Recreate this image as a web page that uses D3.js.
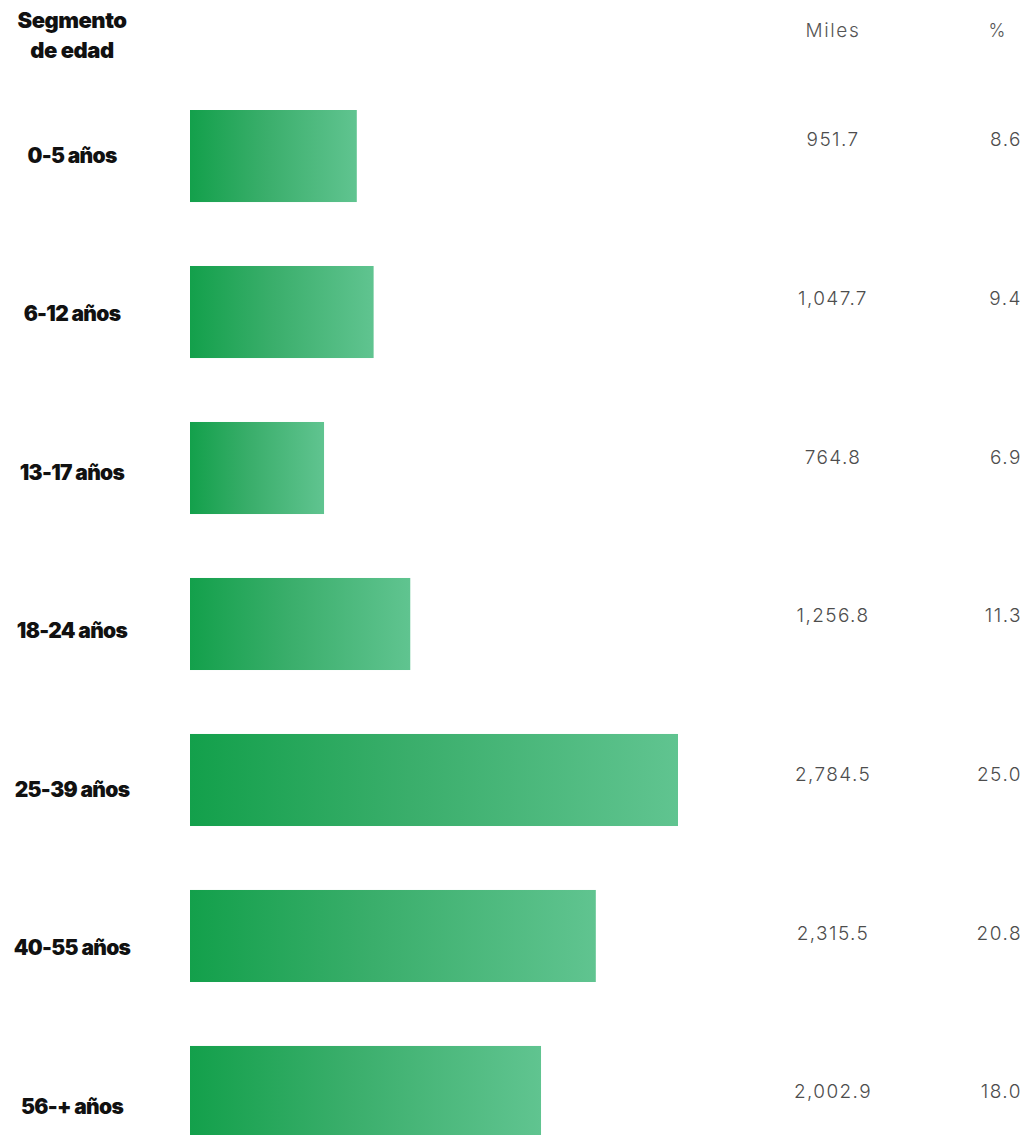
<!DOCTYPE html>
<html lang="es">
<head>
<meta charset="utf-8">
<script src="https://cdn.jsdelivr.net/npm/d3@7/dist/d3.min.js"></script>
<style>
  html, body { margin: 0; padding: 0; background: #ffffff; }
  svg { display: block; }
</style>
</head>
<body>
<script>
// Población por segmento de edad (miles y porcentaje)
const categories = ["0-5 años", "6-12 años", "13-17 años", "18-24 años", "25-39 años", "40-55 años", "56-+ años"];
const miles = [951.7, 1047.7, 764.8, 1256.8, 2784.5, 2315.5, 2002.9];
const pct = [8.6, 9.4, 6.9, 11.3, 25.0, 20.8, 18.0];
const headers = { segmento: ["Segmento", "de edad"], miles: "Miles", pct: "%" };

const W = 1032, H = 1135;
const svg = d3.select("body").append("svg").attr("width", W).attr("height", H);

const defs = svg.append("defs");
const grad = defs.append("linearGradient").attr("id", "barGrad")
  .attr("x1", "0%").attr("x2", "100%").attr("y1", "0%").attr("y2", "0%");
grad.append("stop").attr("offset", "0%").attr("stop-color", "#13a04b");
grad.append("stop").attr("offset", "45%").attr("stop-color", "#3aae6b");
grad.append("stop").attr("offset", "100%").attr("stop-color", "#60c490");

const x = d3.scaleLinear().domain([0, d3.max(miles)]).range([190, 678]);
const yBar = d3.scaleBand().domain(categories).range([110, 1138]).paddingInner(0.41).paddingOuter(0).align(0);
const yLabel = d3.scalePoint().domain(categories).range([157, 1108]);
const yValue = d3.scalePoint().domain(categories).range([141, 1093]);

const fmt = d3.format(",.1f");
const fmtPct = d3.format(".1f");

const boldFont = "Inter, 'Noto Sans', sans-serif";
const lightFont = "Inter, sans-serif";

// Encabezados
const head = svg.append("g");
head.selectAll("text.seg").data(headers.segmento).join("text")
  .attr("class", "seg")
  .attr("x", 72).attr("y", (d, i) => 22 + i * 30)
  .attr("text-anchor", "middle").attr("dominant-baseline", "middle")
  .attr("font-family", boldFont).attr("font-weight", 900)
  .attr("font-size", 22).attr("letter-spacing", -0.5).attr("fill", "#111")
  .text(d => d);
head.append("text").attr("x", 833).attr("y", 32)
  .attr("text-anchor", "middle").attr("dominant-baseline", "middle")
  .attr("font-family", lightFont).attr("font-weight", 300)
  .attr("font-size", 19).attr("letter-spacing", 1.6).attr("fill", "#555")
  .text(headers.miles);
head.append("text").attr("x", 997).attr("y", 32)
  .attr("text-anchor", "middle").attr("dominant-baseline", "middle")
  .attr("font-family", lightFont).attr("font-weight", 300)
  .attr("font-size", 18).attr("fill", "#555")
  .text(headers.pct);

// Barras
svg.append("g").selectAll("rect").data(categories).join("rect")
  .attr("x", x(0))
  .attr("y", d => yBar(d))
  .attr("width", (d, i) => x(miles[i]) - x(0))
  .attr("height", yBar.bandwidth())
  .attr("fill", "url(#barGrad)");

// Etiquetas de segmento
svg.append("g").selectAll("text").data(categories).join("text")
  .attr("x", 72).attr("y", d => yLabel(d))
  .attr("text-anchor", "middle").attr("dominant-baseline", "middle")
  .attr("font-family", boldFont).attr("font-weight", 900)
  .attr("font-size", 21).attr("letter-spacing", -0.7).attr("fill", "#111")
  .text(d => d);

// Valores en miles
svg.append("g").selectAll("text").data(categories).join("text")
  .attr("x", 833).attr("y", d => yValue(d))
  .attr("text-anchor", "middle").attr("dominant-baseline", "middle")
  .attr("font-family", lightFont).attr("font-weight", 300)
  .attr("font-size", 19).attr("letter-spacing", 1.4).attr("fill", "#4d4d4d")
  .text((d, i) => fmt(miles[i]));

// Porcentajes
svg.append("g").selectAll("text").data(categories).join("text")
  .attr("x", 1022).attr("y", d => yValue(d))
  .attr("text-anchor", "end").attr("dominant-baseline", "middle")
  .attr("font-family", lightFont).attr("font-weight", 300)
  .attr("font-size", 19).attr("letter-spacing", 1.5).attr("fill", "#4d4d4d")
  .text((d, i) => fmtPct(pct[i]));
</script>
</body>
</html>
